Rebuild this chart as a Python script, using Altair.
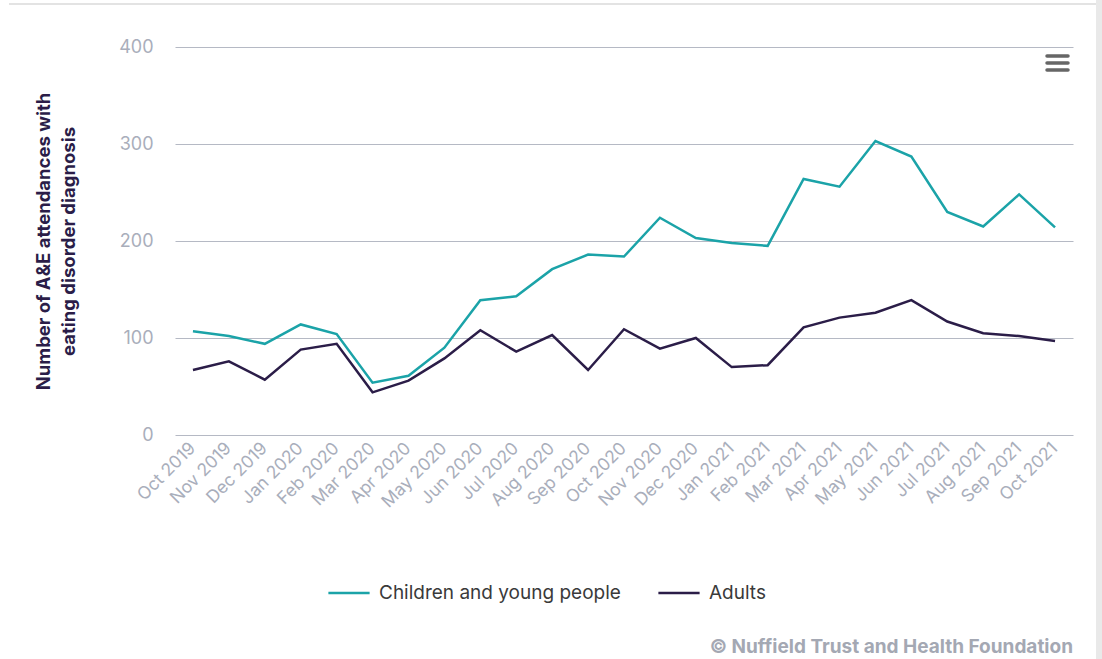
import altair as alt
import pandas as pd

months = ["Oct 2019", "Nov 2019", "Dec 2019", "Jan 2020", "Feb 2020", "Mar 2020",
          "Apr 2020", "May 2020", "Jun 2020", "Jul 2020", "Aug 2020", "Sep 2020",
          "Oct 2020", "Nov 2020", "Dec 2020", "Jan 2021", "Feb 2021", "Mar 2021",
          "Apr 2021", "May 2021", "Jun 2021", "Jul 2021", "Aug 2021", "Sep 2021",
          "Oct 2021"]
children = [107, 102, 94, 114, 104, 54, 61, 90, 139, 143, 171, 186, 184, 224,
            203, 198, 195, 264, 256, 303, 287, 230, 215, 248, 214]
adults = [67, 76, 57, 88, 94, 44, 56, 79, 108, 86, 103, 67, 109, 89, 100, 70,
          72, 111, 121, 126, 139, 117, 105, 102, 97]
series_names = ["Children and young people", "Adults"]
series_colors = ["#1ba3a8", "#2b1d48"]
y_ticks = [0, 100, 200, 300, 400]
credit = "© Nuffield Trust and Health Foundation"

rows = []
for name, vals in zip(series_names, [children, adults]):
    for m, v in zip(months, vals):
        rows.append({"month": m, "value": v, "series": name})
df = pd.DataFrame(rows)

FONT = "Inter"
W, H = 898, 388

lines = alt.Chart(df).mark_line(strokeWidth=2.5, strokeJoin="miter").encode(
    x=alt.X("month:N", sort=months, scale=alt.Scale(type="point", padding=0.5),
            axis=alt.Axis(title=None, labelAngle=-45, labelFontSize=17.5,
                          labelColor="#a9aebb", labelFont=FONT, ticks=False,
                          domain=False, grid=False, labelPadding=4, labelOffset=-7)),
    y=alt.Y("value:Q", scale=alt.Scale(domain=[0, 400], nice=False),
            axis=alt.Axis(values=y_ticks, title=["Number of A&E attendances with",
                                                 "eating disorder diagnosis"],
                          titleFontSize=18.5, titleFont=FONT, titleFontWeight="bold",
                          titleColor="#2b1d48", titlePadding=40, titleLineHeight=25,
                          labelFontSize=18, labelColor="#a9aebb", labelFont=FONT,
                          labelPadding=22, ticks=False, domain=False,
                          gridColor="#b5b9c4", gridWidth=1.2)),
    color=alt.Color("series:N", sort=series_names,
                    scale=alt.Scale(domain=series_names, range=series_colors),
                    legend=alt.Legend(title=None, orient="none", direction="horizontal",
                                      legendX=152, legendY=524, symbolType="stroke",
                                      symbolSize=1700, symbolStrokeWidth=2.5,
                                      labelFontSize=19, labelFont=FONT,
                                      labelColor="#3a3a3a", labelOffset=8,
                                      columnPadding=32, labelLimit=400)),
)

one = pd.DataFrame({"t": [credit]})
credit_mark = alt.Chart(one).mark_text(align="right", baseline="middle", fontSize=19,
                                       fontWeight="bold", font=FONT,
                                       color="#a4a8b3").encode(
    x=alt.value(W), y=alt.value(600), text="t:N")

menu = pd.DataFrame({"k": [9, 16, 23]})
menu_mark = alt.Chart(menu).mark_rule(strokeWidth=3.5, strokeCap="round",
                                      color="#666666").encode(
    x=alt.value(872), x2=alt.value(893), y=alt.Y("k:Q", scale=None))

frame_top = alt.Chart(one).mark_rule(color="#e3e3e3", strokeWidth=2).encode(
    x=alt.value(-166), x2=alt.value(921), y=alt.value(-43))
frame_right = alt.Chart(one).mark_rect(color="#e9e9e9").encode(
    x=alt.value(921), x2=alt.value(927), y=alt.value(-47), y2=alt.value(612))

chart = alt.layer(lines, credit_mark, menu_mark, frame_top, frame_right).properties(
    width=W, height=H,
    autosize=alt.AutoSizeParams(type="none"),
    padding={"left": 175, "top": 47, "right": 29, "bottom": 224},
    background="white",
).configure_view(stroke=None).resolve_scale(y="independent")

chart.save("out.html", embed_options={"renderer": "svg", "actions": False})
